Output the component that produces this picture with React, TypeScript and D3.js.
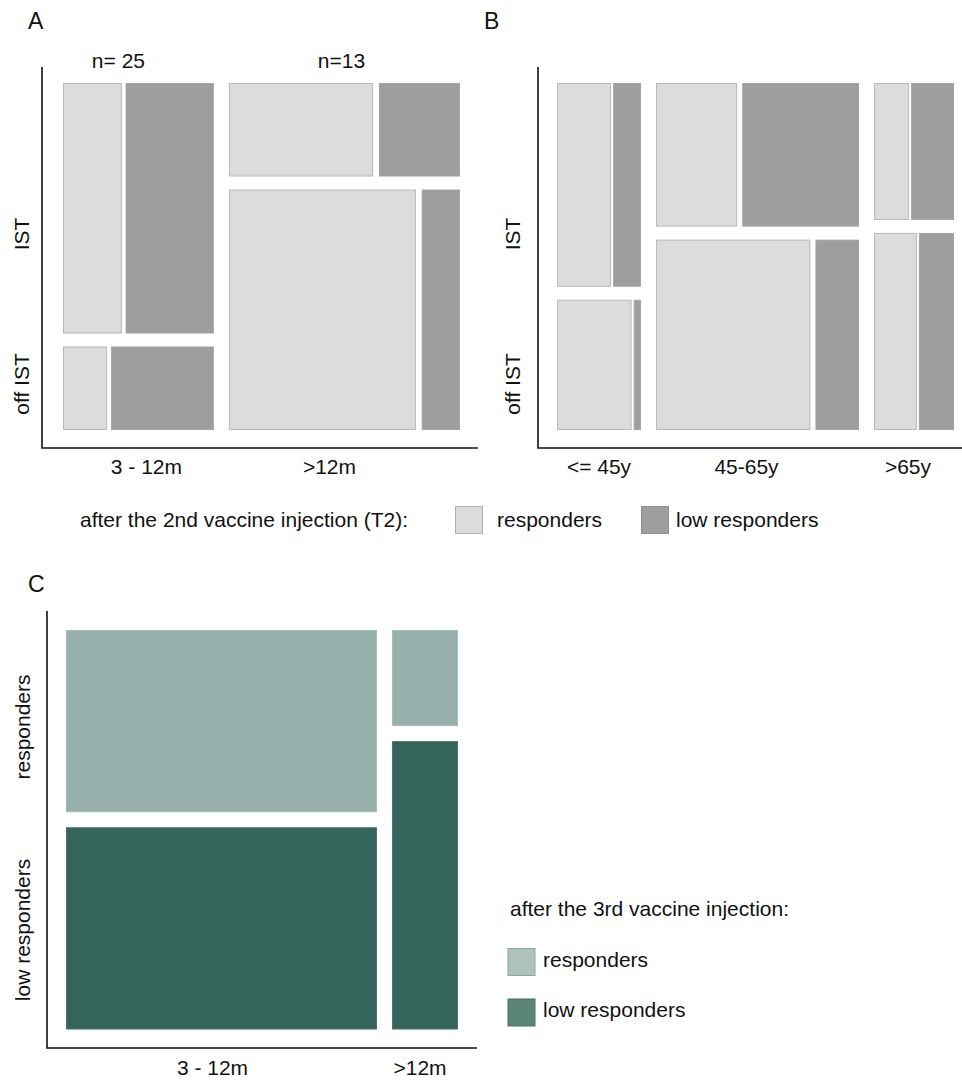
import React from 'react';
import * as d3 from 'd3';

// Panel A: time since transplant x IST, split by T2 response
const colsA = ['3 - 12m', '>12m'];
const nLabelsA = ['n= 25', 'n=13'];
const colPctA = [39.5, 60.5];
const istPctA = [75, 28];
const respIstPctA = [40, 64];
const respOffPctA = [30, 83];

// Panel B: age x IST, split by T2 response
const colsB = ['<= 45y', '45-65y', '>65y'];
const colPctB = [22.9, 55.3, 21.8];
const istPctB = [61, 43, 41];
const respIstPctB = [66, 41, 45];
const respOffPctB = [91, 78, 55];

// Panel C: time since transplant x response after 3rd injection
const colsC = ['3 - 12m', '>12m'];
const colPctC = [82.5, 17.5];
const respPctC = [47.4, 25];

const rowLabelsAB = ['IST', 'off IST'];
const rowLabelsC = ['responders', 'low responders'];

const GREY_LIGHT = '#dcdcdc';
const GREY_DARK = '#9e9e9e';
const GREEN_LIGHT = '#98b0ab';
const GREEN_DARK = '#35645a';
const FONT = '"Liberation Sans", Arial, sans-serif';

interface Box { x0: number; x1: number; y0: number; y1: number }
interface Cell { x: number; y: number; w: number; h: number; fill: string; stroke: string }

// split an extent into segments proportional to shares, separated by fixed gaps
function splitExtent(shares: number[], start: number, end: number, gap: number) {
  const usable = end - start - gap * (shares.length - 1);
  const scale = d3.scaleLinear().domain([0, d3.sum(shares)]).range([0, usable]);
  const cum = d3.cumsum(shares);
  return shares.map((s, i) => {
    const a = start + scale(cum[i] - s) + i * gap;
    return { a, b: a + scale(s) };
  });
}

function mosaicAB(colPct: number[], istPct: number[], respIst: number[], respOff: number[], box: Box): Cell[] {
  const cols = splitExtent(colPct, box.x0, box.x1, 15);
  const cells: Cell[] = [];
  cols.forEach((c, i) => {
    const rows = splitExtent([istPct[i], 100 - istPct[i]], box.y0, box.y1, 13);
    const innerGap = (c.b - c.a) * 0.025;
    [respIst[i], respOff[i]].forEach((r, j) => {
      const parts = splitExtent([r, 100 - r], c.a, c.b, innerGap);
      const row = rows[j];
      cells.push({ x: parts[0].a, y: row.a, w: parts[0].b - parts[0].a, h: row.b - row.a, fill: GREY_LIGHT, stroke: '#b8b8b8' });
      cells.push({ x: parts[1].a, y: row.a, w: parts[1].b - parts[1].a, h: row.b - row.a, fill: GREY_DARK, stroke: '#a4a4a4' });
    });
  });
  return cells;
}

function mosaicC(colPct: number[], respPct: number[], box: Box): Cell[] {
  const cols = splitExtent(colPct, box.x0, box.x1, 15);
  const cells: Cell[] = [];
  cols.forEach((c, i) => {
    const rows = splitExtent([respPct[i], 100 - respPct[i]], box.y0, box.y1, 15);
    cells.push({ x: c.a, y: rows[0].a, w: c.b - c.a, h: rows[0].b - rows[0].a, fill: GREEN_LIGHT, stroke: '#a6bcb7' });
    cells.push({ x: c.a, y: rows[1].a, w: c.b - c.a, h: rows[1].b - rows[1].a, fill: GREEN_DARK, stroke: '#4a7369' });
  });
  return cells;
}

const Rects: React.FC<{ cells: Cell[] }> = ({ cells }) => (
  <g>
    {cells.map((c, i) => (
      <rect key={i} x={c.x + 0.5} y={c.y + 0.5} width={c.w - 1} height={c.h - 1} fill={c.fill} stroke={c.stroke} strokeWidth={1} />
    ))}
  </g>
);

const Axes: React.FC<{ x: number; yTop: number; yBottom: number; xRight: number }> = ({ x, yTop, yBottom, xRight }) => (
  <path d={`M${x},${yTop}V${yBottom}H${xRight}`} fill="none" stroke="#111" strokeWidth={1.6} />
);

function colCenters(colPct: number[], box: Box) {
  return splitExtent(colPct, box.x0, box.x1, 15).map(c => (c.a + c.b) / 2);
}

export default function App() {
  const boxA: Box = { x0: 63, x1: 460, y0: 83, y1: 430 };
  const boxB: Box = { x0: 557, x1: 954, y0: 83, y1: 430 };
  const boxC: Box = { x0: 66, x1: 458, y0: 630, y1: 1029.5 };

  const cellsA = mosaicAB(colPctA, istPctA, respIstPctA, respOffPctA, boxA);
  const cellsB = mosaicAB(colPctB, istPctB, respIstPctB, respOffPctB, boxB);
  const cellsC = mosaicC(colPctC, respPctC, boxC);

  const cxA = colCenters(colPctA, boxA);
  const cxB = colCenters(colPctB, boxB);
  const cxC = colCenters(colPctC, boxC);

  const txt = { fontFamily: FONT, fontSize: 21, fill: '#111' };
  const letter = { ...txt, fontSize: 23 };
  const rowLabelY = [234, 384];
  const rowLabelYC = [727, 930];

  return (
    <svg width={962} height={1080} style={{ position: 'absolute', left: 0, top: 0, background: '#fff' }}>
      <rect width={962} height={1080} fill="#fff" />

      {/* panel letters */}
      <text x={28} y={29} style={letter}>A</text>
      <text x={484} y={29} style={letter}>B</text>
      <text x={28} y={592} style={letter}>C</text>

      {/* panel A */}
      <Rects cells={cellsA} />
      <Axes x={42} yTop={67} yBottom={448} xRight={478} />
      {colsA.map((c, i) => (
        <text key={c} x={cxA[i] + (i === 0 ? 8 : -15)} y={474} textAnchor="middle" style={txt}>{c}</text>
      ))}
      {nLabelsA.map((n, i) => (
        <text key={n} x={cxA[i] - (i === 0 ? 20 : 3)} y={68} textAnchor="middle" style={txt}>{n}</text>
      ))}
      {rowLabelsAB.map((r, i) => (
        <text key={r} transform={`translate(29,${rowLabelY[i]}) rotate(-90)`} textAnchor="middle" style={txt}>{r}</text>
      ))}

      {/* panel B */}
      <Rects cells={cellsB} />
      <Axes x={538} yTop={67} yBottom={448} xRight={962} />
      {colsB.map((c, i) => (
        <text key={c} x={cxB[i] - [0, 11, 6][i]} y={474} textAnchor="middle" style={txt}>{c}</text>
      ))}
      {rowLabelsAB.map((r, i) => (
        <text key={r} transform={`translate(520,${rowLabelY[i]}) rotate(-90)`} textAnchor="middle" style={txt}>{r}</text>
      ))}

      {/* legend A/B */}
      <g>
        <text x={80} y={527} style={txt}>after the 2nd vaccine injection (T2):</text>
        <rect x={455.5} y={506.5} width={27} height={27} fill={GREY_LIGHT} stroke="#b0b0b0" />
        <text x={497} y={527} style={txt}>responders</text>
        <rect x={641.5} y={506.5} width={27} height={27} fill={GREY_DARK} stroke="#8f8f8f" />
        <text x={676} y={527} style={txt}>low responders</text>
      </g>

      {/* panel C */}
      <Rects cells={cellsC} />
      <Axes x={47} yTop={611} yBottom={1048} xRight={477} />
      {colsC.map((c, i) => (
        <text key={c} x={cxC[i] - [9, 5][i]} y={1075} textAnchor="middle" style={txt}>{c}</text>
      ))}
      {rowLabelsC.map((r, i) => (
        <text key={r} transform={`translate(29.5,${rowLabelYC[i]}) rotate(-90)`} textAnchor="middle" style={txt}>{r}</text>
      ))}

      {/* legend C */}
      <g>
        <text x={510} y={916} style={txt}>after the 3rd vaccine injection:</text>
        <rect x={508} y={948.5} width={27} height={27} fill="#aec2bd" stroke="#8da49f" />
        <text x={543} y={967} style={txt}>responders</text>
        <rect x={508} y={999} width={27} height={27} fill="#5b8579" stroke="#4a7066" />
        <text x={543} y={1017} style={txt}>low responders</text>
      </g>
    </svg>
  );
}
